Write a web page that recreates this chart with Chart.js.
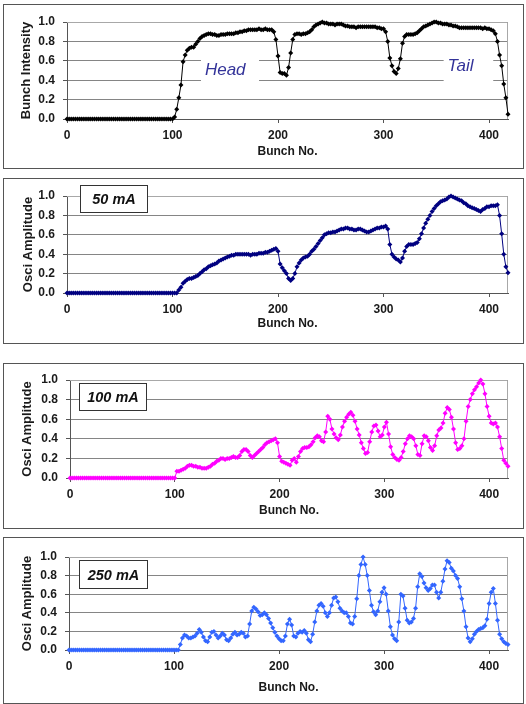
<!DOCTYPE html>
<html>
<head>
<meta charset="utf-8">
<script src="https://cdn.jsdelivr.net/npm/chart.js@4.4.1/dist/chart.umd.min.js"></script>
<style>
  body { margin: 0; background: #fff; width: 526px; height: 704px; overflow: hidden; position: relative; }
  .panel { position: absolute; left: 3px; width: 521px; border: 1px solid #555; box-sizing: border-box; background: #fff; }
  .panel canvas { position: absolute; left: 0; top: 0; }
</style>
</head>
<body>
<div class="panel" style="top:4px;height:165px"><canvas id="c1" width="519" height="163"></canvas></div>
<div class="panel" style="top:178px;height:166px"><canvas id="c2" width="519" height="164"></canvas></div>
<div class="panel" style="top:363px;height:166px"><canvas id="c3" width="519" height="164"></canvas></div>
<div class="panel" style="top:537px;height:167px"><canvas id="c4" width="519" height="165"></canvas></div>
<script>
// values read every 2nd bunch, bunch 0 .. 418
const bunchIntensity = [
  0, 0, 0, 0, 0, 0, 0, 0, 0, 0,
  0, 0, 0, 0, 0, 0, 0, 0, 0, 0,
  0, 0, 0, 0, 0, 0, 0, 0, 0, 0,
  0, 0, 0, 0, 0, 0, 0, 0, 0, 0,
  0, 0, 0, 0, 0, 0, 0, 0, 0, 0,
  0, 0.02, 0.10, 0.22, 0.35, 0.59, 0.66, 0.71, 0.73, 0.74,
  0.74, 0.77, 0.80, 0.83, 0.85, 0.86, 0.87, 0.88, 0.88, 0.87,
  0.87, 0.86, 0.86, 0.87, 0.87, 0.87, 0.88, 0.88, 0.88, 0.88,
  0.89, 0.89, 0.90, 0.90, 0.91, 0.91, 0.92, 0.92, 0.92, 0.92,
  0.92, 0.93, 0.92, 0.92, 0.93, 0.92, 0.92, 0.92, 0.90, 0.82,
  0.65, 0.48, 0.47, 0.47, 0.45, 0.53, 0.68, 0.82, 0.87, 0.88,
  0.88, 0.87, 0.88, 0.88, 0.89, 0.90, 0.92, 0.95, 0.97, 0.98,
  0.99, 1.00, 0.99, 0.99, 0.98, 0.98, 0.98, 0.97, 0.98, 0.98,
  0.98, 0.97, 0.96, 0.96, 0.95, 0.95, 0.95, 0.94, 0.95, 0.95,
  0.95, 0.95, 0.95, 0.95, 0.95, 0.95, 0.95, 0.94, 0.94, 0.93,
  0.93, 0.90, 0.80, 0.63, 0.55, 0.49, 0.47, 0.52, 0.62, 0.78,
  0.85, 0.87, 0.87, 0.87, 0.87, 0.88, 0.89, 0.91, 0.93, 0.95,
  0.96, 0.97, 0.98, 0.99, 1.00, 1.00, 0.99, 0.99, 0.98, 0.98,
  0.98, 0.97, 0.97, 0.96, 0.96, 0.95, 0.94, 0.94, 0.94, 0.94,
  0.94, 0.94, 0.94, 0.94, 0.94, 0.94, 0.94, 0.93, 0.94, 0.93,
  0.93, 0.92, 0.91, 0.88, 0.80, 0.66, 0.55, 0.36, 0.22, 0.05
]
const osci50mA = [
  0, 0, 0, 0, 0, 0, 0, 0, 0, 0,
  0, 0, 0, 0, 0, 0, 0, 0, 0, 0,
  0, 0, 0, 0, 0, 0, 0, 0, 0, 0,
  0, 0, 0, 0, 0, 0, 0, 0, 0, 0,
  0, 0, 0, 0, 0, 0, 0, 0, 0, 0,
  0, 0, 0, 0.03, 0.06, 0.10, 0.12, 0.14, 0.15, 0.15,
  0.16, 0.17, 0.18, 0.20, 0.22, 0.24, 0.25, 0.27, 0.28, 0.29,
  0.30, 0.31, 0.33, 0.34, 0.35, 0.36, 0.37, 0.38, 0.39, 0.39,
  0.40, 0.40, 0.40, 0.40, 0.40, 0.40, 0.40, 0.39, 0.40, 0.40,
  0.40, 0.41, 0.41, 0.41, 0.42, 0.42, 0.43, 0.44, 0.45, 0.46,
  0.43, 0.30, 0.26, 0.23, 0.20, 0.15, 0.13, 0.15, 0.20, 0.27,
  0.31, 0.34, 0.36, 0.37, 0.38, 0.40, 0.43, 0.45, 0.48, 0.51,
  0.54, 0.57, 0.60, 0.61, 0.62, 0.62, 0.63, 0.63, 0.64, 0.65,
  0.66, 0.66, 0.67, 0.67, 0.66, 0.66, 0.65, 0.65, 0.66, 0.66,
  0.65, 0.64, 0.63, 0.63, 0.64, 0.65, 0.66, 0.67, 0.67, 0.68,
  0.68, 0.69, 0.66, 0.50, 0.40, 0.37, 0.35, 0.34, 0.32, 0.36,
  0.43, 0.48, 0.50, 0.50, 0.50, 0.51, 0.52, 0.56, 0.61, 0.67,
  0.72, 0.76, 0.80, 0.84, 0.87, 0.90, 0.92, 0.94, 0.95, 0.96,
  0.97, 0.99, 1.00, 0.99, 0.98, 0.97, 0.96, 0.95, 0.93, 0.92,
  0.90, 0.89, 0.88, 0.87, 0.86, 0.85, 0.84, 0.86, 0.87, 0.89,
  0.89, 0.90, 0.90, 0.90, 0.91, 0.80, 0.61, 0.40, 0.27, 0.21
]
const osci100mA = [
  0, 0, 0, 0, 0, 0, 0, 0, 0, 0,
  0, 0, 0, 0, 0, 0, 0, 0, 0, 0,
  0, 0, 0, 0, 0, 0, 0, 0, 0, 0,
  0, 0, 0, 0, 0, 0, 0, 0, 0, 0,
  0, 0, 0, 0, 0, 0, 0, 0, 0, 0,
  0, 0.07, 0.07, 0.08, 0.09, 0.10, 0.12, 0.13, 0.13, 0.12,
  0.12, 0.11, 0.11, 0.10, 0.10, 0.10, 0.11, 0.12, 0.14, 0.15,
  0.17, 0.18, 0.20, 0.20, 0.19, 0.20, 0.20, 0.21, 0.22, 0.21,
  0.21, 0.23, 0.27, 0.29, 0.29, 0.27, 0.23, 0.21, 0.23, 0.25,
  0.27, 0.29, 0.31, 0.34, 0.36, 0.37, 0.38, 0.39, 0.40, 0.36,
  0.22, 0.17, 0.16, 0.15, 0.14, 0.13, 0.18, 0.20, 0.16, 0.22,
  0.27, 0.30, 0.31, 0.31, 0.32, 0.34, 0.37, 0.41, 0.43, 0.42,
  0.38, 0.37, 0.47, 0.63, 0.60, 0.50, 0.45, 0.41, 0.39, 0.44,
  0.52, 0.58, 0.62, 0.65, 0.67, 0.64, 0.58, 0.50, 0.44, 0.36,
  0.30, 0.25, 0.26, 0.37, 0.47, 0.53, 0.54, 0.48, 0.42, 0.44,
  0.52, 0.57, 0.45, 0.32, 0.24, 0.21, 0.19, 0.18, 0.21, 0.27,
  0.35, 0.40, 0.43, 0.42, 0.40, 0.33, 0.24, 0.23, 0.35, 0.43,
  0.42, 0.38, 0.31, 0.28, 0.33, 0.43, 0.49, 0.51, 0.56, 0.66,
  0.72, 0.70, 0.62, 0.50, 0.36, 0.29, 0.30, 0.33, 0.40, 0.58,
  0.73, 0.80, 0.86, 0.90, 0.93, 0.97, 1.00, 0.96, 0.86, 0.73,
  0.63, 0.56, 0.55, 0.56, 0.52, 0.42, 0.30, 0.18, 0.15, 0.12
]
const osci250mA = [
  0, 0, 0, 0, 0, 0, 0, 0, 0, 0,
  0, 0, 0, 0, 0, 0, 0, 0, 0, 0,
  0, 0, 0, 0, 0, 0, 0, 0, 0, 0,
  0, 0, 0, 0, 0, 0, 0, 0, 0, 0,
  0, 0, 0, 0, 0, 0, 0, 0, 0, 0,
  0, 0, 0, 0.06, 0.13, 0.16, 0.15, 0.13, 0.13, 0.14,
  0.15, 0.18, 0.22, 0.19, 0.14, 0.10, 0.09, 0.14, 0.19, 0.20,
  0.16, 0.13, 0.15, 0.18, 0.16, 0.11, 0.10, 0.13, 0.17, 0.19,
  0.16, 0.17, 0.19, 0.18, 0.14, 0.15, 0.28, 0.42, 0.46, 0.44,
  0.41, 0.37, 0.38, 0.40, 0.38, 0.34, 0.29, 0.24, 0.19, 0.15,
  0.12, 0.10, 0.10, 0.15, 0.28, 0.33, 0.27, 0.15, 0.14, 0.18,
  0.20, 0.19, 0.21, 0.18, 0.11, 0.09, 0.17, 0.30, 0.42, 0.48,
  0.50, 0.47, 0.40, 0.36, 0.40, 0.48, 0.56, 0.57, 0.52, 0.45,
  0.42, 0.40, 0.40, 0.36, 0.29, 0.28, 0.36, 0.55, 0.80, 0.92,
  1.00, 0.92, 0.80, 0.64, 0.48, 0.41, 0.38, 0.42, 0.52, 0.62,
  0.67, 0.60, 0.42, 0.25, 0.16, 0.12, 0.10, 0.30, 0.60, 0.58,
  0.45, 0.32, 0.29, 0.30, 0.34, 0.45, 0.68, 0.82, 0.79, 0.72,
  0.67, 0.64, 0.66, 0.70, 0.70, 0.62, 0.56, 0.62, 0.74, 0.87,
  0.96, 0.94, 0.88, 0.85, 0.80, 0.77, 0.68, 0.55, 0.42, 0.25,
  0.13, 0.09, 0.12, 0.17, 0.20, 0.22, 0.23, 0.24, 0.26, 0.33,
  0.50, 0.62, 0.66, 0.50, 0.32, 0.17, 0.12, 0.09, 0.07, 0.06
]
const bunchNo = bunchIntensity.map((_, i) => i * 2)
const xTicks = [0, 100, 200, 300, 400]
const yTicks = [0, 0.2, 0.4, 0.6, 0.8, 1.0]

const FONT = "'Liberation Sans', Arial, sans-serif"

// draws the plot frame, white text boxes and the current label
const decor = {
  id: 'decor',
  beforeDatasetsDraw(chart, args, opts) {
    const {ctx, chartArea: a, scales: {x, y}} = chart
    ctx.save()
    ctx.strokeStyle = '#a8a8a8'
    ctx.lineWidth = 1
    ctx.beginPath()
    ctx.moveTo(a.left, a.top + 0.5)
    ctx.lineTo(a.right - 0.5, a.top + 0.5)
    ctx.lineTo(a.right - 0.5, a.bottom)
    ctx.stroke()
    for (const n of opts.notes || []) {
      const l = x.getPixelForValue(n.x0), r = x.getPixelForValue(n.x1)
      const t = y.getPixelForValue(n.y1), b = y.getPixelForValue(n.y0)
      ctx.fillStyle = '#fff'
      ctx.fillRect(l, t, r - l, b - t)
      ctx.fillStyle = '#333399'
      ctx.font = 'italic 17px ' + FONT
      ctx.textAlign = 'center'
      ctx.textBaseline = 'middle'
      ctx.fillText(n.text, x.getPixelForValue(n.tx), y.getPixelForValue(n.ty))
    }
    ctx.restore()
  },
  afterDatasetsDraw(chart, args, opts) {
    const b = opts.box
    if (!b) return
    const {ctx, scales: {x, y}} = chart
    const l = Math.round(x.getPixelForValue(b.x0)) + 0.5, r = Math.round(x.getPixelForValue(b.x1)) + 0.5
    const t = Math.round(y.getPixelForValue(b.y1)) + 0.5, bt = Math.round(y.getPixelForValue(b.y0)) + 0.5
    ctx.save()
    ctx.fillStyle = '#fff'
    ctx.fillRect(l, t, r - l, bt - t)
    ctx.strokeStyle = '#333'
    ctx.lineWidth = 1
    ctx.strokeRect(l, t, r - l, bt - t)
    ctx.fillStyle = '#111'
    ctx.font = 'italic bold 14.5px ' + FONT
    ctx.textAlign = 'center'
    ctx.textBaseline = 'middle'
    ctx.fillText(b.text, (l + r) / 2, (t + bt) / 2 + 1)
    ctx.restore()
  }
}

function drawPanel(id, values, color, p) {
  const tickFont = {family: FONT, size: 12, weight: 'bold'}
  return new Chart(document.getElementById(id), {
    type: 'line',
    data: {
      labels: bunchNo,
      datasets: [{
        data: values,
        borderColor: color,
        backgroundColor: color,
        borderWidth: 1,
        pointStyle: 'rectRot',
        pointRadius: 2.5,
        pointBorderWidth: 0,
        tension: 0,
        clip: 4
      }]
    },
    options: {
      responsive: false,
      animation: false,
      events: [],
      layout: {padding: {top: p.top, right: 15, left: 0, bottom: 0}},
      plugins: {
        legend: {display: false},
        tooltip: {enabled: false},
        decor: {notes: p.notes, box: p.box}
      },
      scales: {
        x: {
          type: 'linear', min: 0, max: 418,
          afterBuildTicks: s => { s.ticks = xTicks.map(v => ({value: v})) },
          afterFit: s => { s.height = p.xh },
          grid: {drawOnChartArea: false, tickLength: 4, tickColor: '#555'},
          border: {color: '#555', width: 1},
          ticks: {color: '#1a1a1a', font: tickFont, padding: 5, maxRotation: 0},
          title: {display: true, text: 'Bunch No.', color: '#1a1a1a', font: tickFont, padding: {top: 0, bottom: p.xt}}
        },
        y: {
          min: 0, max: 1,
          afterBuildTicks: s => { s.ticks = yTicks.map(v => ({value: v})) },
          afterFit: s => { s.width = p.yw },
          grid: {color: '#858585', tickLength: 4, tickColor: '#555'},
          border: {color: '#555', width: 1},
          ticks: {color: '#1a1a1a', font: tickFont, padding: 8, callback: v => v.toFixed(1)},
          title: {display: true, text: p.ytitle, color: '#1a1a1a', font: {family: FONT, size: 13, weight: 'bold'}, padding: {top: p.yt, bottom: 0}}
        }
      }
    },
    plugins: [decor]
  })
}

drawPanel('c1', bunchIntensity, '#000000', {
  top: 17, xh: 49, yw: 63, xt: 9, yt: 15, ytitle: 'Bunch Intensity',
  notes: [
    {text: 'Head', x0: 127, x1: 182, y0: 0.31, y1: 0.69, tx: 150, ty: 0.5},
    {text: 'Tail', x0: 357, x1: 404, y0: 0.31, y1: 0.69, tx: 373, ty: 0.54}
  ]
})
drawPanel('c2', osci50mA, '#000080', {
  top: 17, xh: 50, yw: 63, xt: 12, yt: 17, ytitle: 'Osci Amplitude',
  box: {text: '50 mA', x0: 12, x1: 76, y0: 0.835, y1: 1.11}
})
drawPanel('c3', osci100mA, '#ff00ff', {
  top: 16, xh: 50, yw: 66, xt: 10, yt: 16, ytitle: 'Osci Amplitude',
  box: {text: '100 mA', x0: 8.5, x1: 73, y0: 0.694, y1: 0.969}
})
drawPanel('c4', osci250mA, '#3366ff', {
  top: 19, xh: 53, yw: 65, xt: 8, yt: 16, ytitle: 'Osci Amplitude',
  box: {text: '250 mA', x0: 9.5, x1: 74, y0: 0.667, y1: 0.968}
})
</script>
</body>
</html>
